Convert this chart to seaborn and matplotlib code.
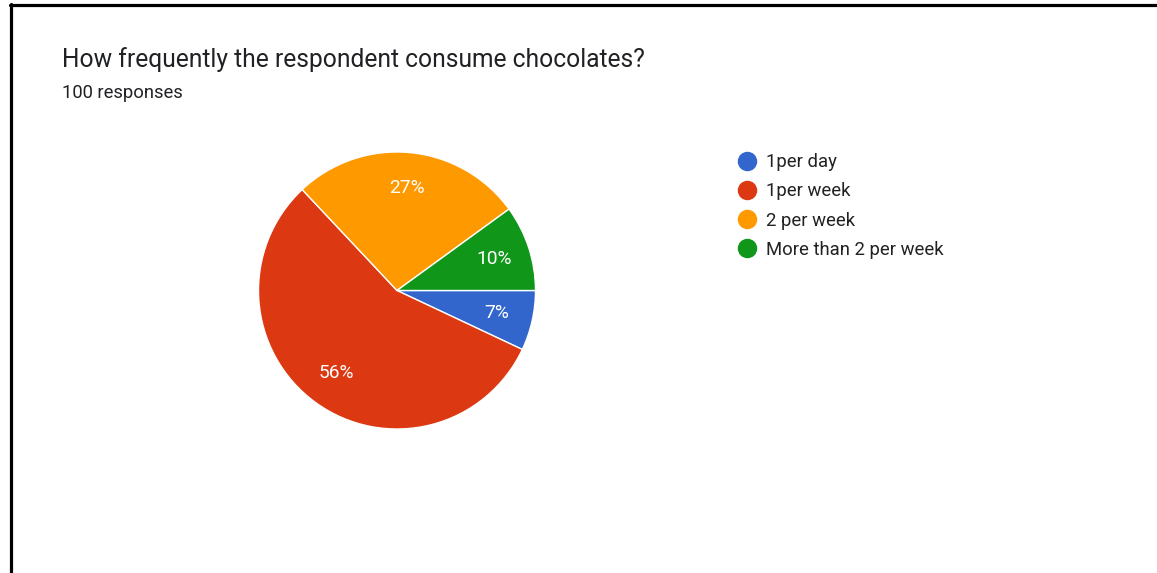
import matplotlib
matplotlib.use("Agg")
import matplotlib.pyplot as plt
from matplotlib.lines import Line2D
import seaborn as sns

# Survey answers (percent of 100 responses)
categories = ["1per day", "1per week", "2 per week", "More than 2 per week"]
shares = [7, 56, 27, 10]
colors = ["#3366CC", "#DC3912", "#FF9900", "#109618"]

title = "How frequently the respondent consume chocolates?"
subtitle = "100 responses"

sns.set_theme(style="white")
plt.rcParams["font.family"] = ["Roboto", "DejaVu Sans"]

W, H = 1157, 573
fig = plt.figure(figsize=(W / 100, H / 100), dpi=100)
fig.patch.set_facecolor("white")

# pie axes: center (397, 290) px, radius 138 px
cx, cy, r = 397, 290.5, 138.5
ax = fig.add_axes([(cx - r) / W, (H - cy - r) / H, 2 * r / W, 2 * r / H])
wedges, texts, autotexts = ax.pie(
    shares,
    colors=colors,
    startangle=0,
    counterclock=False,
    autopct=lambda p: f"{p:.0f}%",
    pctdistance=0.74,
    wedgeprops=dict(edgecolor="white", linewidth=1.0),
    textprops=dict(color="white", fontsize=13.8),
)
ax.set_xlim(-1, 1)
ax.set_ylim(-1, 1)
ax.set_aspect("equal")
ax.axis("off")

# heading
fig.text(62 / W, 1 - 67 / H, title, fontsize=17.7, color="#202124",
         ha="left", va="baseline")
fig.text(62 / W, 1 - 97.5 / H, subtitle, fontsize=13.2, color="#202124",
         ha="left", va="baseline")

# legend
handles = [Line2D([], [], marker="o", linestyle="none", markersize=13,
                  markerfacecolor=c, markeredgecolor=c) for c in colors]
leg = fig.legend(handles, categories, loc="upper left",
                 bbox_to_anchor=(736 / W, 1 - 153 / H), frameon=False,
                 fontsize=13.3, labelspacing=0.61, handletextpad=0.4,
                 handlelength=1.2, borderaxespad=0, borderpad=0)
for t in leg.get_texts():
    t.set_color("#222222")

# frame lines along top and left edges
fig.add_artist(Line2D([9.5 / W, 1], [1 - 5 / H, 1 - 5 / H],
                      transform=fig.transFigure, color="black", linewidth=2.3))
fig.add_artist(Line2D([10.5 / W, 10.5 / W], [0, 1 - 4 / H],
                      transform=fig.transFigure, color="black", linewidth=2.3))

fig.savefig("out.png", dpi=100, facecolor="white")
